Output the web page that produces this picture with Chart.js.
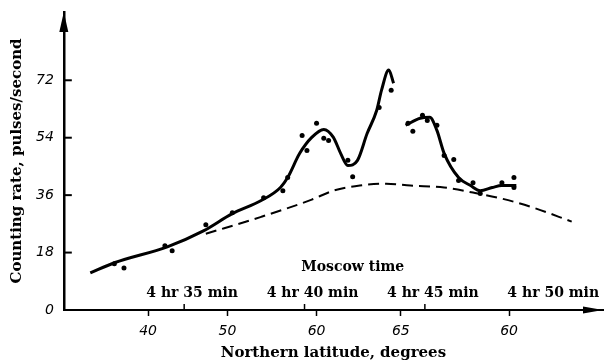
<!DOCTYPE html>
<html>
<head>
<meta charset="utf-8">
<script src="https://cdn.jsdelivr.net/npm/chart.js@4/dist/chart.umd.min.js"></script>
<style>
  html, body { margin: 0; padding: 0; background: #fff; }
  #wrap { width: 609px; height: 361px; }
</style>
</head>
<body>
<div id="wrap"><canvas id="chart"></canvas></div>
<script>
// x runs in minutes after 4 hr Moscow time, y is the counting rate
const latTickAt = [33.5, 36.8, 40.5, 44.0, 48.5];
const latLabels = ["40", "50", "60", "65", "60"];
const timeTicks = [35, 40, 45, 50];
const timeLabels = ["4 hr 35 min", "4 hr 40 min", "4 hr 45 min", "4 hr 50 min"];
const rateTicks = [0, 18, 36, 54, 72];

// smoothed curve, first stretch (two peaks)
const fitAT = [31.1, 32.1, 34.3, 35.8, 37.0, 38.2, 39.0, 39.3, 39.8, 40.3, 40.8, 41.2, 41.5, 41.8, 42.2, 42.6, 43.0, 43.2, 43.5, 43.7];
const fitARate = [11.6, 14.8, 19.8, 24.8, 30.2, 34.3, 38.4, 41.5, 49.1, 54.1, 56.6, 54.1, 49.1, 45.3, 46.9, 55.3, 62.6, 68.9, 75.2, 71.1];

// smoothed curve, second stretch
const fitBT = [44.2, 44.8, 45.2, 45.5, 45.8, 46.4, 46.9, 47.3, 47.8, 48.2, 48.8];
const fitBRate = [57.9, 60.1, 60.4, 56.3, 49.1, 41.5, 39.0, 37.4, 38.4, 39.0, 39.0];

// background level (dashed)
const baseT = [35.9, 38.2, 40.3, 41.2, 42.3, 43.4, 44.4, 45.8, 47.0, 48.2, 49.5, 51.1];
const baseRate = [23.9, 29.2, 34.6, 37.4, 39.0, 39.6, 39.0, 38.4, 36.8, 34.9, 32.1, 27.7];

// measured points
const obsT = [32.1, 32.5, 34.2, 34.5, 35.9, 37.0, 38.3, 39.1, 39.3, 39.9, 40.1, 40.5, 40.8, 41.0, 41.8, 42.0, 43.1, 43.6,
  44.3, 44.5, 44.9, 45.1, 45.5, 45.8, 46.2, 46.4, 47.0, 47.3, 48.2, 48.7, 48.7];
const obsRate = [14.5, 13.2, 20.1, 18.6, 26.7, 30.5, 35.2, 37.4, 41.5, 54.7, 50.0, 58.5, 53.8, 53.1, 46.9, 41.8, 63.5, 68.9,
  58.5, 56.0, 61.0, 59.4, 57.9, 48.4, 47.2, 40.6, 39.9, 36.5, 39.9, 41.5, 38.4];

const pts = (xs, ys) => xs.map((t, i) => ({ x: t, y: ys[i] }));

const serifBold = { family: '"DejaVu Serif"', weight: 'bold' };

// arrowheads, inward rate ticks, time marks and their captions
const axisDecor = {
  id: "axisDecor",
  afterDraw(chart) {
    const { ctx, chartArea: a, scales: { x, y } } = chart;
    ctx.save();
    ctx.fillStyle = "#000";
    ctx.strokeStyle = "#000";

    ctx.beginPath();
    ctx.moveTo(a.left, a.top);
    ctx.lineTo(a.left - 4.5, a.top + 20);
    ctx.lineTo(a.left + 4.5, a.top + 20);
    ctx.closePath();
    ctx.fill();

    ctx.beginPath();
    ctx.moveTo(a.right, a.bottom);
    ctx.lineTo(a.right - 20, a.bottom - 3.5);
    ctx.lineTo(a.right - 20, a.bottom + 3.5);
    ctx.closePath();
    ctx.fill();

    ctx.lineWidth = 2;
    rateTicks.forEach(v => {
      if (v === 0) return;
      const py = y.getPixelForValue(v);
      ctx.beginPath();
      ctx.moveTo(a.left, py);
      ctx.lineTo(a.left + 8, py);
      ctx.stroke();
    });

    ctx.lineWidth = 1.5;
    timeTicks.slice(0, 3).forEach(t => {
      const px = x.getPixelForValue(t);
      ctx.beginPath();
      ctx.moveTo(px, a.bottom);
      ctx.lineTo(px, a.bottom - 6);
      ctx.stroke();
    });

    ctx.font = 'bold 14px "DejaVu Serif"';
    ctx.textAlign = "center";
    ctx.textBaseline = "middle";
    timeLabels.forEach((s, i) => {
      ctx.fillText(s, x.getPixelForValue(timeTicks[i]) + 8, a.bottom - 17);
    });
    ctx.fillText("Moscow time", x.getPixelForValue((timeTicks[1] + timeTicks[2]) / 2) - 12, a.bottom - 43);
    ctx.restore();
  }
};

const line = (data, extra) => Object.assign({
  type: "line",
  data,
  borderColor: "#000",
  borderWidth: 3,
  pointRadius: 0,
  fill: false,
  cubicInterpolationMode: "monotone"
}, extra);

new Chart(document.getElementById("chart"), {
  data: {
    datasets: [
      line(pts(fitAT, fitARate)),
      line(pts(fitBT, fitBRate)),
      line(pts(baseT, baseRate), { borderWidth: 2, borderDash: [11, 6] }),
      {
        type: "scatter",
        data: pts(obsT, obsRate),
        pointRadius: 2.5,
        pointBackgroundColor: "#000",
        pointBorderColor: "#000",
        pointBorderWidth: 0
      }
    ]
  },
  options: {
    responsive: true,
    maintainAspectRatio: false,
    animation: false,
    layout: { padding: { top: 12, right: 6, left: 0, bottom: 0 } },
    plugins: { legend: { display: false }, tooltip: { enabled: false } },
    scales: {
      x: {
        type: "linear",
        min: 30,
        max: 52.4,
        afterBuildTicks: scale => { scale.ticks = latTickAt.map(v => ({ value: v })); },
        ticks: {
          autoSkip: false,
          maxRotation: 0,
          padding: 8,
          color: "#000",
          font: { family: '"DejaVu Sans"', style: "italic", size: 14, lineHeight: 1 },
          callback: (value, index) => latLabels[index]
        },
        grid: { display: true, drawOnChartArea: false, drawTicks: true, tickLength: 6, tickColor: "#000", tickWidth: 1.5 },
        border: { display: true, color: "#000", width: 2 },
        title: {
          display: true,
          text: "Northern latitude, degrees",
          color: "#000",
          font: Object.assign({ size: 15, lineHeight: 1 }, serifBold),
          padding: { top: 0, bottom: 0 }
        }
      },
      y: {
        type: "linear",
        min: 0,
        max: 93.4,
        afterBuildTicks: scale => { scale.ticks = rateTicks.map(v => ({ value: v })); },
        // the top tick sits well below the arrow, so no room is needed above it
        afterFit: scale => { scale.paddingTop = 0; },
        ticks: {
          padding: 10,
          color: "#000",
          font: { family: '"DejaVu Sans"', style: "italic", size: 14 }
        },
        grid: { display: true, drawOnChartArea: false, drawTicks: false },
        border: { display: true, color: "#000", width: 2.5 },
        title: {
          display: true,
          text: "Counting rate, pulses/second",
          color: "#000",
          font: Object.assign({ size: 15 }, serifBold),
          padding: { top: 8, bottom: 0 }
        }
      }
    }
  },
  plugins: [axisDecor]
});
</script>
</body>
</html>
